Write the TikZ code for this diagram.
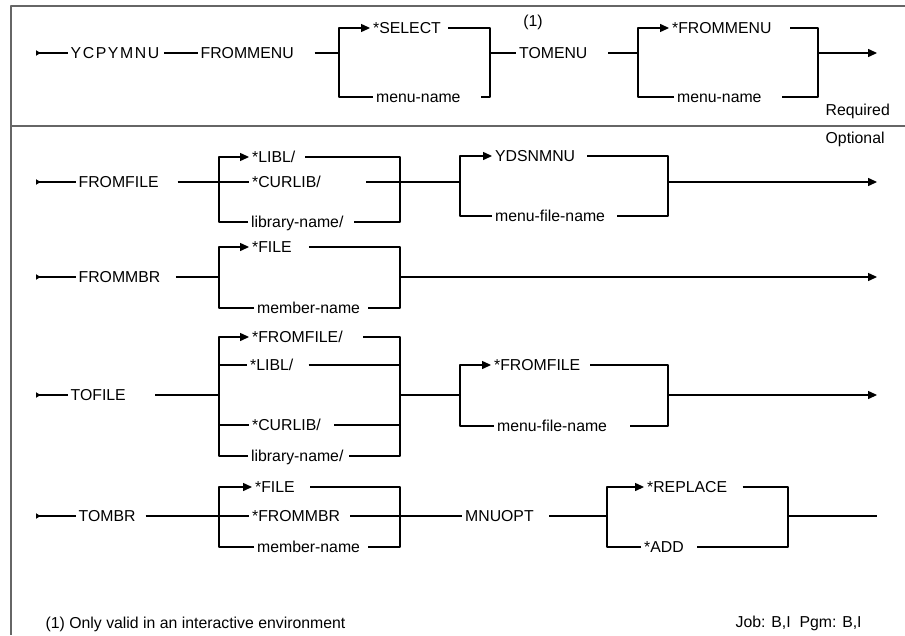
\documentclass[tikz,border=0pt]{standalone}
\usepackage{fontspec}
\setmainfont{Liberation Sans}
\usetikzlibrary{arrows.meta}
\begin{document}
\begin{tikzpicture}[x=0.02cm,y=-0.02cm,line join=round,line width=0.6pt,font=\fontsize{9}{10}\selectfont,
	kw/.style={anchor=west,inner xsep=1.5pt,inner ysep=0pt,text height=6.5pt,text depth=0pt,
		execute at end node={\hspace*{#1}}},
	kw/.default=2pt,
	go/.style={-{Triangle[length=5pt,width=4.5pt]}},
	inarrow/.style={{Triangle[reversed,length=2.5pt,width=3pt]}-},
	frame/.style={draw=black!60,line width=0.8pt}]
	\useasboundingbox (0,0) rectangle (905,635);
	% frame
	\path (905,6) coordinate (Fr) (11,6) coordinate (Fl) (11,635) coordinate (Fb)
	(11,126) coordinate (Dl) (905,126) coordinate (Dr);
	\draw[frame] (Fr)--(Fl)--(Fb) (Dl)--(Dr);
	% rails and joints
	\foreach \n/\x/\t/\m/\b in {
		a1/339/28/53/97, b1/490/28/53/97, c1/638/28/53/97, d1/818/28/53/97,
		a2/219/157/182/222, b2/400/157/182/222, c2/460/156/182/216, d2/668/156/182/216,
		a3/219/247/277/308, b3/400/247/277/308,
		a4/219/337/395/456, b4/400/337/395/456, c4/460/365/395/426, d4/668/365/395/426,
		a5/219/487/516/547, b5/400/487/516/547, c5/607/487/516/547, d5/788/487/516/547}{
		\path (\x,\t) coordinate (\n t) (\x,\m) coordinate (\n) (\x,\b) coordinate (\n b);}
	\foreach \r/\y in {1/53,2/182,3/277,4/395,5/516}{
		\path (36,\y) coordinate (s\r) (877,\y) coordinate (e\r);}
	% row 1
	\node[kw=1pt] (ycp) at (67.5,53) {\addfontfeature{LetterSpace=10}YCPYMNU};
	\node[kw=10pt] (frm) at (197.5,53) {FROMMENU};
	\node[kw=2.5pt] (sel) at (370,28) {*SELECT};
	\node[kw=10pt] (mn1) at (373,97) {menu-name};
	\node[kw=10pt] (tom) at (516,53) {TOMENU};
	\node[kw=9pt] (fmn) at (669,28) {*FROMMENU};
	\node[kw=10pt] (mn2) at (674,97) {menu-name};
	\node (one) at (533,22) {(1)};
	\node[kw] (req) at (822.5,110) {Required};
	\node[kw] (opt) at (822.5,138) {Optional};
	\draw[inarrow] (s1)--(ycp);
	\draw (ycp)--(frm) (frm)--(a1) (b1)--(tom) (tom)--(c1);
	\draw[go] (mn1) -| (a1t)--(sel);
	\draw (sel) -| (b1b)--(mn1);
	\draw[go] (mn2) -| (c1t)--(fmn);
	\draw (fmn) -| (d1b)--(mn2);
	\draw[go] (d1)--(e1);
	% row 2
	\node[kw=9pt] (ffl) at (75.5,182) {FROMFILE};
	\node[kw=4pt] (lb2) at (249,157) {*LIBL/};
	\node[kw=24pt] (cl2) at (249,182) {*CURLIB/};
	\node[kw=4pt] (ln2) at (248,222) {library-name/};
	\node[kw=5pt] (yds) at (492,156) {YDSNMNU};
	\node[kw=5pt] (mf2) at (492,216) {menu-file-name};
	\draw[inarrow] (s2)--(ffl);
	\draw (ffl)--(a2) (a2)--(cl2) (cl2)--(b2) (b2)--(c2);
	\draw[go] (ln2) -| (a2t)--(lb2);
	\draw (lb2) -| (b2b)--(ln2);
	\draw[go] (mf2) -| (c2t)--(yds);
	\draw (yds) -| (d2b)--(mf2);
	\draw[go] (d2)--(e2);
	% row 3
	\node[kw=7pt] (fmb) at (75.5,277) {FROMMBR};
	\node[kw=8pt] (fi3) at (249,247) {*FILE};
	\node[kw=2.5pt] (mb3) at (254,308) {member-name};
	\draw[inarrow] (s3)--(fmb);
	\draw (fmb)--(a3);
	\draw[go] (mb3) -| (a3t)--(fi3);
	\draw (fi3) -| (b3b)--(mb3);
	\draw[go] (b3)--(e3);
	% row 4
	\node[kw=15pt] (tfl) at (67.5,395) {TOFILE};
	\node[kw=10pt] (ff4) at (249,337) {*FROMFILE/};
	\node[kw=7pt] (lb4) at (247,365) {*LIBL/};
	\node[kw=6pt] (cl4) at (249,425) {*CURLIB/};
	\node[kw=1.5pt] (ln4) at (248,456) {library-name/};
	\node[kw=4pt] (ff5) at (491,365) {*FROMFILE};
	\node[kw=11pt] (mf4) at (494,426) {menu-file-name};
	\draw[inarrow] (s4)--(tfl);
	\draw (tfl)--(a4) (b4)--(c4);
	\draw[go] (ln4) -| (a4t)--(ff4);
	\draw (ff4) -| (b4b)--(ln4);
	\draw (a4|-lb4)--(lb4) (lb4)--(b4|-lb4) (a4|-cl4)--(cl4) (cl4)--(b4|-cl4);
	\draw[go] (mf4) -| (c4t)--(ff5);
	\draw (ff5) -| (d4b)--(mf4);
	\draw[go] (d4)--(e4);
	% row 5
	\node[kw=4pt] (tmb) at (75.5,516) {TOMBR};
	\node[kw=7pt] (fi5) at (252,487) {*FILE};
	\node[kw=4pt] (fm5) at (249,516) {*FROMMBR};
	\node[kw=2.5pt] (mb5) at (254,547) {member-name};
	\node[kw=7pt] (mno) at (462,516) {MNUOPT};
	\node[kw=7pt] (rep) at (644,487) {*REPLACE};
	\node[kw=6pt] (add) at (641,547) {*ADD};
	\draw[inarrow] (s5)--(tmb);
	\draw (tmb)--(a5) (a5)--(fm5) (fm5)--(b5) (b5)--(mno) (mno)--(c5) (d5)--(e5);
	\draw[go] (mb5) -| (a5t)--(fi5);
	\draw (fi5) -| (b5b)--(mb5);
	\draw[go] (add) -| (c5t)--(rep);
	\draw (rep) -| (d5b)--(add);
	% notes
	\node[kw] (note) at (42.5,623) {(1) Only valid in an interactive environment};
	\node[kw] (job) at (732.5,622) {Job: B,I\ \ Pgm: B,I};
\end{tikzpicture}
\end{document}
